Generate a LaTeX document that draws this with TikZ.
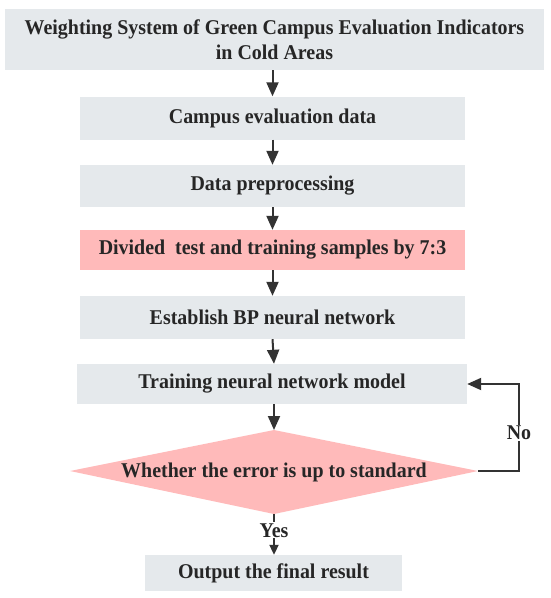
\documentclass[tikz,border=0pt]{standalone}
\usepackage{fontspec}
\setmainfont{Liberation Serif}[FakeStretch=0.95]
\usetikzlibrary{arrows.meta,positioning}
\definecolor{boxgray}{HTML}{E5E9EC}
\definecolor{boxpink}{HTML}{FFBABA}
\definecolor{ink}{HTML}{262626}
\definecolor{arr}{HTML}{333333}
\tikzset{
  box/.style={fill=boxgray, draw=none, inner sep=0pt, text=ink, font=\fontsize{21}{25}\selectfont\bfseries, align=center},
  pinkbox/.style={box, fill=boxpink},
  flow/.style={draw=arr, line width=2pt, -{Triangle[length=14pt,width=12pt]}},
  smallflow/.style={draw=arr, line width=2pt, -{Triangle[length=10pt,width=9pt]}},
  lbl/.style={fill=white, inner sep=1pt, text=ink, font=\fontsize{21}{24}\selectfont\bfseries}
}
\begin{document}
\begin{tikzpicture}[x=1pt,y=1pt]
\useasboundingbox (0,0) rectangle (550,-598);
\node[box, minimum width=539pt, minimum height=61pt] (title) at (274.5,-39.5) {Weighting System of Green Campus Evaluation Indicators\\in Cold Areas};
\node[box, minimum width=385pt, minimum height=43pt] (campus) at (272.5,-118) {Campus evaluation data};
\node[box, minimum width=385pt, minimum height=42pt] (prep) at (272.5,-186) {Data preprocessing};
\node[pinkbox, minimum width=385pt, minimum height=40pt] (divide) at (272.5,-250) {Divided\ \ test and training samples by 7:3};
\node[box, minimum width=385pt, minimum height=43pt] (estab) at (272.5,-317.5) {Establish BP neural network};
\node[box, minimum width=390pt, minimum height=40pt] (train) at (272,-384) {Training neural network model};
\coordinate (dt) at (274,-430);
\coordinate (dr) at (478,-471);
\coordinate (db) at (274,-514);
\coordinate (dl) at (70,-471);
\fill[boxpink] (dt) -- (dr) -- (db) -- (dl) -- cycle;
\node[text=ink, font=\fontsize{21}{24}\selectfont\bfseries] (decide) at (274,-472) {Whether the error is up to standard};
\node[box, minimum width=257pt, minimum height=36pt] (out) at (273.5,-573) {Output the final result};
\coordinate (nocorner1) at (519,-471);
\coordinate (nocorner2) at (519,-384);
\draw[flow] (title.south -| campus.north) -- (campus.north);
\draw[flow] (campus) -- (prep);
\draw[flow] (prep) -- (divide);
\draw[flow] (divide) -- (estab);
\draw[flow] (estab.south) -- (dt |- train.north);
\draw[flow] (train.south -| dt) -- (dt);
\draw[smallflow] (db) -- (out.north -| db) node[lbl, pos=0.4] (yes) {Yes};
\draw[flow] (dr) -- (nocorner1) -- (nocorner2) node[lbl, pos=0.44] (no) {No} -- (train.east);
\end{tikzpicture}
\end{document}
